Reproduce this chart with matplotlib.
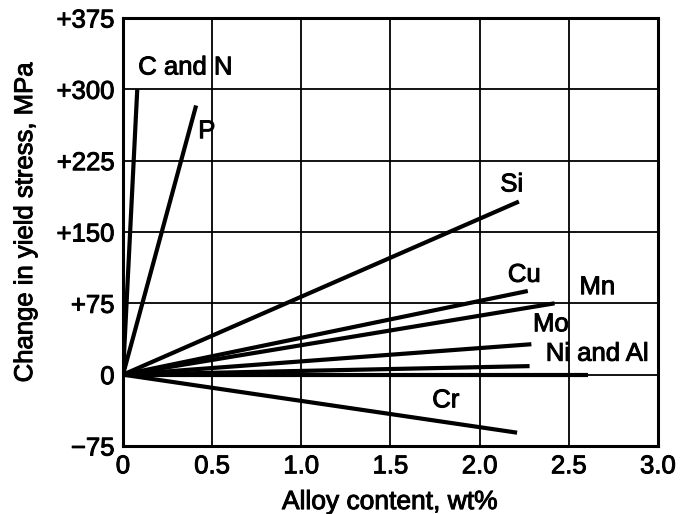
import matplotlib
matplotlib.use("Agg")
import matplotlib.pyplot as plt
import matplotlib.patheffects as pe

plt.rcParams['font.family'] = ['Liberation Sans', 'DejaVu Sans']

# Strengthening effect of each alloying element (straight lines from the origin)
elements = ["C and N", "P", "Si", "Cu", "Mn", "Mo", "Ni", "Al", "Cr"]
end_content = [0.08, 0.41, 2.22, 2.27, 2.42, 2.29, 2.28, 2.61, 2.21]   # wt%
end_stress = [300, 283, 182, 88, 75, 32, 9, 0, -61]                    # MPa

x_ticks = [0, 0.5, 1.0, 1.5, 2.0, 2.5, 3.0]
x_tick_labels = ["0", "0.5", "1.0", "1.5", "2.0", "2.5", "3.0"]
y_ticks = [-75, 0, 75, 150, 225, 300, 375]
y_tick_labels = ["\u221275", "0", "+75", "+150", "+225", "+300", "+375"]

# Label text and where it sits in data coordinates
label_text = ["C and N", "P", "Si", "Cu", "Mn", "Mo", "Ni and Al", "Cr"]
label_pos = [(0.35, 323), (0.47, 256), (2.18, 200), (2.25, 105),
             (2.66, 92), (2.40, 53), (2.66, 22), (1.81, -27)]

heavy = [pe.withStroke(linewidth=0.7, foreground='black')]

fig = plt.figure(figsize=(6.81, 5.14), dpi=100)
ax = fig.add_axes([0.1806, 0.1323, 0.9662 - 0.1806, 0.965 - 0.1323])

ax.set_xlim(0, 3.0)
ax.set_ylim(-75, 375)
ax.set_xticks(x_ticks)
ax.set_xticklabels(x_tick_labels)
ax.set_yticks(y_ticks)
ax.set_yticklabels(y_tick_labels)
ax.tick_params(length=0, labelsize=18.5, pad=6, colors='black')
for lbl in ax.get_xticklabels() + ax.get_yticklabels():
    lbl.set_path_effects(heavy)

ax.grid(True, color='black', linewidth=1.3)
ax.set_axisbelow(True)
for sp in ax.spines.values():
    sp.set_linewidth(2.2)
    sp.set_color('black')

for name, xe, ye in zip(elements, end_content, end_stress):
    ax.plot([0, xe], [0, ye], color='black', linewidth=3.0,
            solid_capstyle='butt', zorder=3)

for txt, (lx, ly) in zip(label_text, label_pos):
    ax.text(lx, ly, txt, fontsize=18.5, ha='center', va='center', zorder=4,
            path_effects=heavy)

ax.set_xlabel("Alloy content, wt%", fontsize=19, path_effects=heavy)
ax.set_ylabel("Change in yield stress, MPa", fontsize=18.5, path_effects=heavy)
ax.xaxis.set_label_coords(0.499, -0.131)
ax.yaxis.set_label_coords(-0.183, 0.523)
ax.xaxis.label.set_va('center')
ax.yaxis.label.set_va('center')

fig.savefig("out.png", dpi=100)
